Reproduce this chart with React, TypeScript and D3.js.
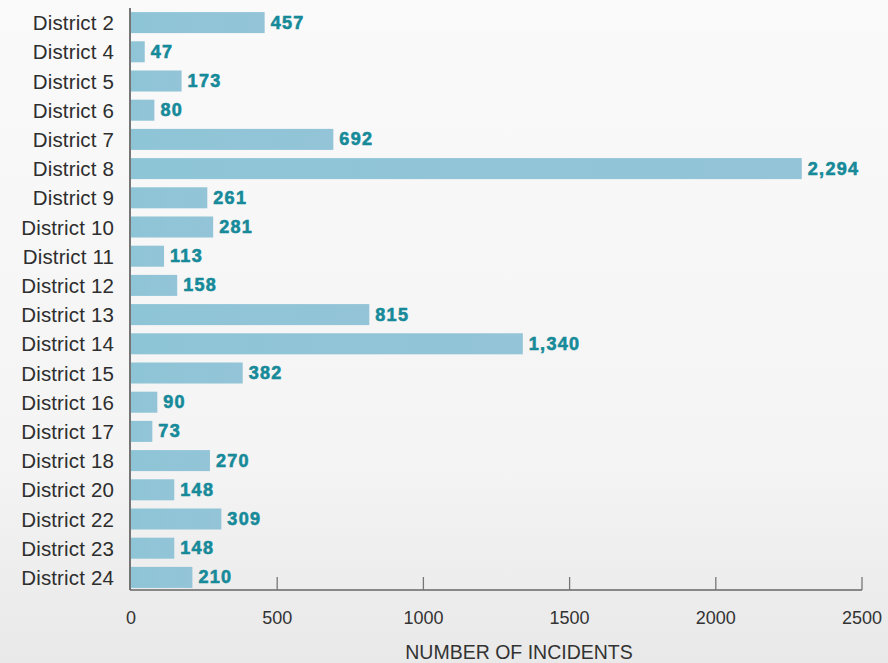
import React from "react";
import * as d3 from "d3";

const districts = [
  "District 2", "District 4", "District 5", "District 6", "District 7",
  "District 8", "District 9", "District 10", "District 11", "District 12",
  "District 13", "District 14", "District 15", "District 16", "District 17",
  "District 18", "District 20", "District 22", "District 23", "District 24",
];
const incidents = [457, 47, 173, 80, 692, 2294, 261, 281, 113, 158, 815, 1340, 382, 90, 73, 270, 148, 309, 148, 210];
const xTicks = [0, 500, 1000, 1500, 2000, 2500];
const xTitle = "NUMBER OF INCIDENTS";

const W = 888;
const H = 663;
const FONT = "'Liberation Sans', Arial, Helvetica, sans-serif";

export default function App() {
  const x = d3.scaleLinear().domain([0, 2500]).range([131, 862]);
  const y = d3
    .scaleBand<string>()
    .domain(districts)
    .range([8, 8 + 20 * 29.2])
    .paddingInner(0.28)
    .paddingOuter(0.14);
  const fmt = d3.format(",");
  const axisY = 590;

  return (
    <div style={{ position: "fixed", left: 0, top: 0, width: W, height: H }}>
      <svg width={W} height={H} style={{ display: "block" }}>
        <defs>
          <linearGradient id="bg" x1="0" y1="0" x2="0" y2="1">
            <stop offset="0%" stopColor="#fafafa" />
            <stop offset="70%" stopColor="#f4f4f4" />
            <stop offset="88%" stopColor="#ededed" />
            <stop offset="100%" stopColor="#e9e9e9" />
          </linearGradient>
          <linearGradient id="bar" x1="0" y1="0" x2="1" y2="0">
            <stop offset="0%" stopColor="#8ec5d6" />
            <stop offset="100%" stopColor="#93c4d7" />
          </linearGradient>
        </defs>
        <rect x={0} y={0} width={W} height={H} fill="url(#bg)" />

        {districts.map((d, i) => {
          const yy = y(d)!;
          const bw = y.bandwidth();
          const v = incidents[i];
          return (
            <g key={d}>
              <rect x={x(0)} y={yy} width={x(v) - x(0)} height={bw} fill="url(#bar)" />
              <text
                x={114}
                y={yy + bw / 2}
                textAnchor="end"
                dominantBaseline="central"
                fontFamily={FONT}
                fontSize={20.5}
                letterSpacing={0.15}
                fill="#2e2e2e"
              >
                {d}
              </text>
              <text
                x={x(v) + 6}
                y={yy + bw / 2}
                dominantBaseline="central"
                fontFamily={FONT}
                fontSize={18}
                fontWeight="bold"
                letterSpacing={1.3}
                stroke="#178a99"
                strokeWidth={0.6}
                fill="#178a99"
              >
                {fmt(v)}
              </text>
            </g>
          );
        })}

        <line x1={130} x2={130} y1={8} y2={axisY} stroke="#555" strokeWidth={1.6} />
        <line x1={130} x2={862} y1={axisY} y2={axisY} stroke="#666" strokeWidth={1.6} />
        {xTicks.filter((t) => t > 0).map((t) => (
          <line key={t} x1={x(t)} x2={x(t)} y1={axisY - 13} y2={axisY} stroke="#777" strokeWidth={1.3} />
        ))}
        {xTicks.map((t) => (
          <text
            key={t}
            x={x(t)}
            y={624}
            textAnchor="middle"
            fontFamily={FONT}
            fontSize={18}
            fill="#333"
          >
            {t}
          </text>
        ))}
        <text
          x={519}
          y={659}
          textAnchor="middle"
          fontFamily={FONT}
          fontSize={19.5}
          fill="#333"
        >
          {xTitle}
        </text>
      </svg>
    </div>
  );
}
